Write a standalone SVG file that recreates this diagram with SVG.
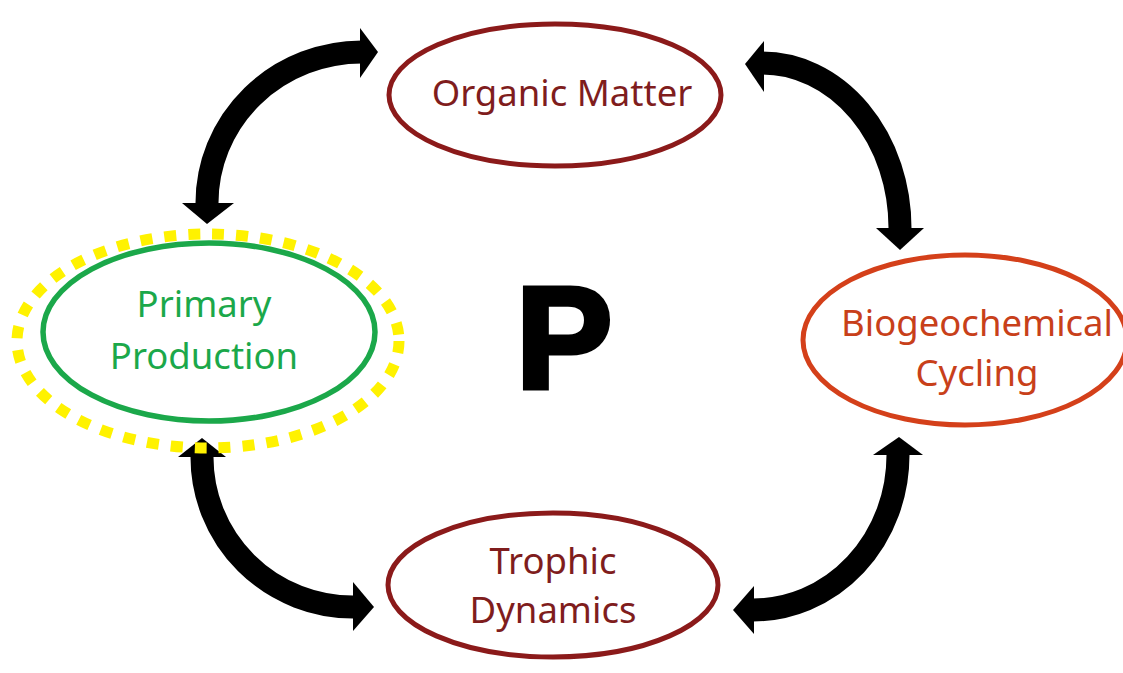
<svg xmlns="http://www.w3.org/2000/svg" width="1123" height="673" viewBox="0 0 1123 673">
<style>
.lbl{font-family:"Noto Sans","Open Sans",sans-serif;font-size:36.5px;text-anchor:middle}
.shaft{fill:none;stroke:#000;stroke-width:23}
.head{fill:#000}
</style>
<rect width="1123" height="673" fill="#fff"/>
<g id="connectors">
  <path class="shaft" d="M362,52 A155,151 0 0 0 207,203"/>
  <polygon class="head" points="360,28 378,52 360,78"/>
  <polygon class="head" points="182,203 207,224 234,203"/>
  <path class="shaft" d="M762,63 A138,165 0 0 1 900,228"/>
  <polygon class="head" points="764,41 745,64 764,92"/>
  <polygon class="head" points="876,228 900,250 924,228"/>
  <path class="shaft" d="M202,456 A151,150 0 0 0 354,607"/>
  <polygon class="head" points="178,457 202,438 226,457"/>
  <polygon class="head" points="353,582 374,607 353,631"/>
  <path class="shaft" d="M898,454 A145,155 0 0 1 752,610"/>
  <polygon class="head" points="873,455 899,437 923,455"/>
  <polygon class="head" points="754,586 733,610 754,634"/>
</g>
<g id="organic-matter">
  <ellipse cx="555" cy="95" rx="166" ry="71" fill="none" stroke="#8B1A1A" stroke-width="5"/>
  <text class="lbl" x="562" y="106" fill="#7F1D1D">Organic Matter</text>
</g>
<g id="primary-production">
  <ellipse cx="208" cy="341" rx="191" ry="107" fill="none" stroke="#FFF200" stroke-width="11" stroke-dasharray="12 12"/>
  <ellipse cx="209" cy="332" rx="166" ry="89" fill="none" stroke="#1BA84A" stroke-width="5.5"/>
  <text class="lbl" x="204" y="317" fill="#1BA84A">Primary</text>
  <text class="lbl" x="204" y="369" fill="#1BA84A">Production</text>
</g>
<g id="biogeochemical-cycling">
  <ellipse cx="965" cy="340" rx="162" ry="85" fill="none" stroke="#D4401A" stroke-width="5"/>
  <text class="lbl" x="977" y="336" fill="#C8401A">Biogeochemical</text>
  <text class="lbl" x="977" y="386" fill="#C8401A">Cycling</text>
</g>
<g id="trophic-dynamics">
  <ellipse cx="553" cy="585" rx="165" ry="72" fill="none" stroke="#8B1A1A" stroke-width="5"/>
  <text class="lbl" x="553" y="574" fill="#7F1D1D">Trophic</text>
  <text class="lbl" x="553" y="623" fill="#7F1D1D">Dynamics</text>
</g>
<g id="center-p">
  <text x="564" y="388" font-family="Liberation Sans,Arial,sans-serif" font-weight="bold" font-size="145" text-anchor="middle" fill="#000" stroke="#000" stroke-width="5" stroke-linejoin="miter">P</text>
</g>
</svg>
